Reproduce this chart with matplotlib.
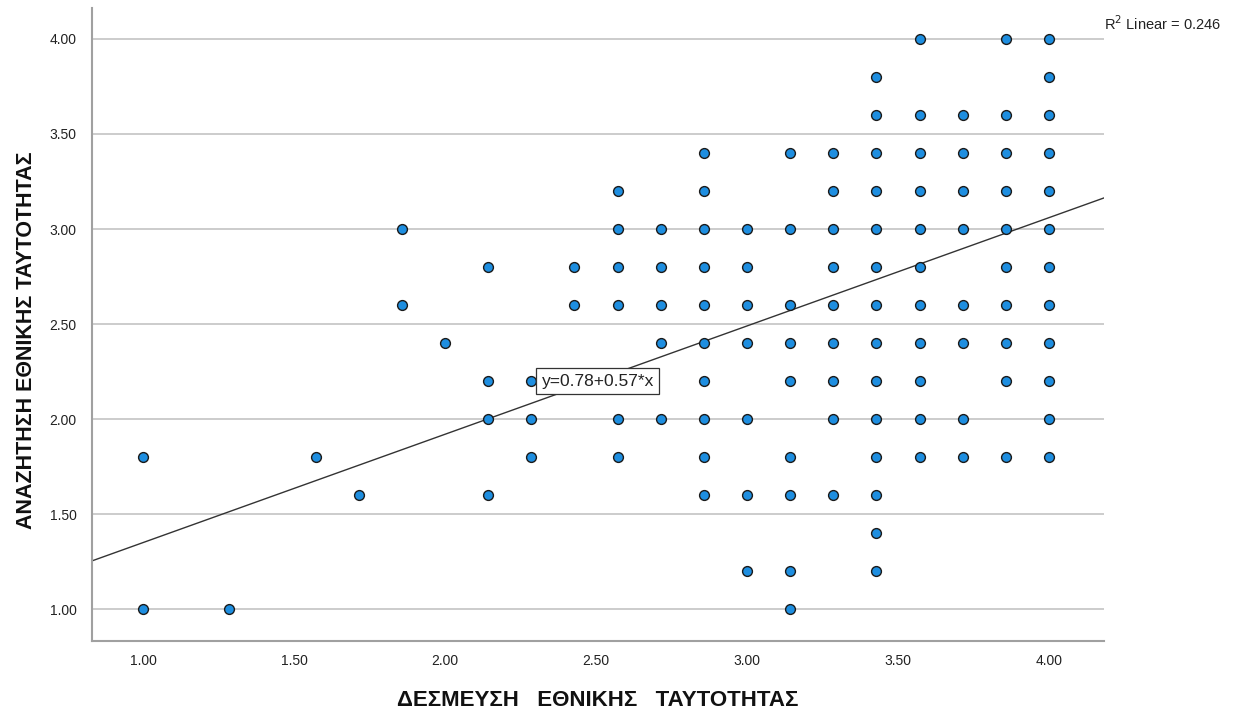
import numpy as np
import matplotlib
matplotlib.use("Agg")
import matplotlib.pyplot as plt

# x values are multiples of 1/7, y values multiples of 0.2
x_levels = [1.0, 9/7, 11/7, 12/7, 13/7, 2.0, 15/7, 16/7, 17/7, 18/7, 19/7, 20/7,
            3.0, 22/7, 23/7, 24/7, 25/7, 26/7, 27/7, 4.0]
y_by_x = [
    [1.8, 1.0],
    [1.0],
    [1.8],
    [1.6],
    [3.0, 2.6],
    [2.4],
    [2.8, 2.2, 2.0, 1.6],
    [2.2, 2.0, 1.8],
    [2.8, 2.6],
    [3.2, 3.0, 2.8, 2.6, 2.0, 1.8],
    [3.0, 2.8, 2.6, 2.4, 2.0],
    [3.4, 3.2, 3.0, 2.8, 2.6, 2.4, 2.2, 2.0, 1.8, 1.6],
    [3.0, 2.8, 2.6, 2.4, 2.0, 1.6, 1.2],
    [3.4, 3.0, 2.6, 2.4, 2.2, 1.8, 1.6, 1.2, 1.0],
    [3.4, 3.2, 3.0, 2.8, 2.6, 2.4, 2.2, 2.0, 1.6],
    [3.8, 3.6, 3.4, 3.2, 3.0, 2.8, 2.6, 2.4, 2.2, 2.0, 1.8, 1.6, 1.4, 1.2],
    [4.0, 3.6, 3.4, 3.2, 3.0, 2.8, 2.6, 2.4, 2.2, 2.0, 1.8],
    [3.6, 3.4, 3.2, 3.0, 2.6, 2.4, 2.0, 1.8],
    [4.0, 3.6, 3.4, 3.2, 3.0, 2.8, 2.6, 2.4, 2.2, 1.8],
    [4.0, 3.8, 3.6, 3.4, 3.2, 3.0, 2.8, 2.6, 2.4, 2.2, 2.0, 1.8],
]
intercept = 0.78
slope = 0.57
r2 = 0.246

x_ticks = [1.0, 1.5, 2.0, 2.5, 3.0, 3.5, 4.0]
y_ticks = [1.0, 1.5, 2.0, 2.5, 3.0, 3.5, 4.0]
x_title = "ΔΕΣΜΕΥΣΗ   ΕΘΝΙΚΗΣ   ΤΑΥΤΟΤΗΤΑΣ"
y_title = "ΑΝΑΖΗΤΗΣΗ ΕΘΝΙΚΗΣ ΤΑΥΤΟΤΗΤΑΣ"

plt.rcParams['font.family'] = ['Liberation Sans', 'DejaVu Sans']

xs = []
ys = []
for xv, col in zip(x_levels, y_by_x):
    for yv in col:
        xs.append(xv)
        ys.append(yv)

fig = plt.figure(figsize=(12.38, 7.14), dpi=100)
ax = fig.add_axes([0.0743, 0.1022, 0.8175, 0.8866])

xlim = (0.831, 4.182)
ax.set_xlim(xlim)
ax.set_ylim(0.832, 4.163)

ax.set_yticks(y_ticks)
ax.set_xticks(x_ticks)
ax.yaxis.grid(True, color='#c8c8c8', linewidth=1.3)
ax.set_axisbelow(True)

ax.scatter(xs, ys, s=50, color='#1e8ee0', edgecolor='#1a1a1a', linewidth=1.0, zorder=3)

lx = np.array(xlim)
ax.plot(lx, intercept + slope * lx, color='#333333', linewidth=1.0, zorder=2)

ax.text(2.32, 2.2, "y=%.2f+%.2f*x" % (intercept, slope), fontsize=12.5, ha='left', va='center',
        color='#222222', zorder=4,
        bbox=dict(boxstyle='square,pad=0.3', facecolor='white', edgecolor='#333333', linewidth=0.9))

for s in ['top', 'right']:
    ax.spines[s].set_visible(False)
for s in ['left', 'bottom']:
    ax.spines[s].set_color('#a0a0a0')
    ax.spines[s].set_linewidth(1.5)

ax.tick_params(axis='both', length=0, labelsize=10, colors='#222222')
ax.tick_params(axis='x', pad=9)
ax.tick_params(axis='y', pad=11)
ax.set_xticklabels(["%.2f" % v for v in x_ticks])
ax.set_yticklabels(["%.2f" % v for v in y_ticks])

ax.set_xlabel(x_title, fontsize=16, fontweight='bold', color='#111111', va='top')
ax.xaxis.set_label_coords(0.5, -0.078)
ax.set_ylabel(y_title, fontsize=15.5, fontweight='bold', color='#111111')
ax.yaxis.set_label_coords(-0.054, 0.475)

fig.text(0.892, 0.967, "R$^2$ Linear = %.3f" % r2, fontsize=10.5, ha='left', va='center', color='#222222')

fig.savefig("out.png", dpi=100)
